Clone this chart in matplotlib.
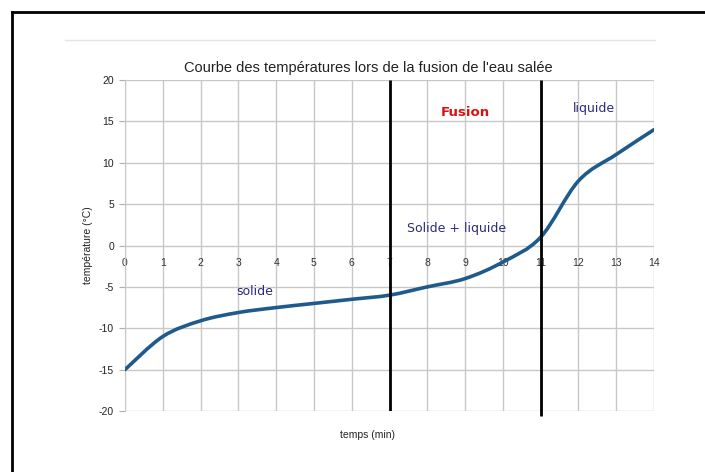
import numpy as np
import matplotlib
matplotlib.use('Agg')
import matplotlib.pyplot as plt
from matplotlib.path import Path
from matplotlib.patches import PathPatch
from matplotlib.lines import Line2D

# data
temps = [0, 1, 2, 3, 4, 5, 6, 7, 8, 9, 10, 11, 12, 13, 14]
temperature = [-15, -11, -9.1, -8.1, -7.5, -7.0, -6.5, -6.0, -5.0, -4.0, -2.0, 1.0, 7.8, 11.0, 14.0]
phase_limits = [7, 11]
x_ticks = list(range(0, 15))
y_ticks = [-20, -15, -10, -5, 0, 5, 10, 15, 20]

plt.rcParams['font.family'] = ['Liberation Sans', 'DejaVu Sans']
plt.rcParams['axes.unicode_minus'] = False

fig = plt.figure(figsize=(7.05, 4.72), dpi=100)
ax = fig.add_axes([125 / 705, 1 - 411 / 472, 529 / 705, 331 / 472])

# smooth line: cubic bezier segments through the points (catmull-rom style)
x = np.array(temps, dtype=float)
y = np.array(temperature, dtype=float)
verts = [(x[0], y[0])]
codes = [Path.MOVETO]
for i in range(len(x) - 1):
    i0 = max(i - 1, 0)
    i3 = min(i + 2, len(x) - 1)
    c1 = (x[i] + (x[i + 1] - x[i0]) / 6, y[i] + (y[i + 1] - y[i0]) / 6)
    c2 = (x[i + 1] - (x[i3] - x[i]) / 6, y[i + 1] - (y[i3] - y[i]) / 6)
    verts += [c1, c2, (x[i + 1], y[i + 1])]
    codes += [Path.CURVE4] * 3
ax.add_patch(PathPatch(Path(verts, codes), facecolor='none', edgecolor='#1f5a8c',
                       linewidth=2.6, capstyle='round', zorder=4))

# phase limits
ax.vlines(phase_limits[0], -20, 20, color='black', linewidth=2, zorder=5)
ax.vlines(phase_limits[1], -20.6, 20, color='black', linewidth=2, zorder=5, clip_on=False)

ax.set_xlim(0, 14)
ax.set_ylim(-20, 20)
ax.set_yticks(y_ticks)
ax.set_xticks(x_ticks)
ax.grid(True, color='#c8c8c8', linewidth=1)
ax.set_axisbelow(True)

for s in ['top', 'right']:
    ax.spines[s].set_visible(False)
ax.spines['left'].set_color('#c8c8c8')
ax.spines['bottom'].set_position(('data', 0))
ax.spines['bottom'].set_visible(False)
ax.tick_params(axis='y', length=4, color='#b0b0b0', labelsize=7.5, labelcolor='#222222', pad=4)
ax.tick_params(axis='x', length=0, labelsize=7.5, labelcolor='#333333', pad=9)

# title and x label are centred on the page, not on the plot area
fig.text(368 / 705, 1 - 68 / 472, "Courbe des températures lors de la fusion de l'eau salée",
         fontsize=10.5, color='#222222', ha='center', va='center')
fig.text(368 / 705, 1 - 435 / 472, 'temps (min)', fontsize=7.5, color='#222222',
         ha='center', va='center')
fig.text(88 / 705, 1 - 245 / 472, 'température (°C)', fontsize=7.5, color='#222222',
         ha='center', va='center', rotation=90)

# phase annotations
ax.text(3.43, -5.5, 'solide', color='#2b2b7a', fontsize=9, family='DejaVu Sans',
        ha='center', va='center')
ax.text(8.77, 2.0, 'Solide + liquide', color='#2b2b7a', fontsize=9, family='DejaVu Sans',
        ha='center', va='center')
ax.text(9.0, 16.1, 'Fusion', color='#dd1111', fontsize=9.5, fontweight='bold',
        family='DejaVu Sans', ha='center', va='center')
ax.text(12.4, 16.6, 'liquide', color='#2b2b7a', fontsize=9, family='DejaVu Sans',
        ha='center', va='center')

# faint line above the chart, and the outer frame
fig.add_artist(Line2D([65 / 705, 655 / 705], [1 - 40 / 472] * 2, color='#e4e4e4',
                      linewidth=1, transform=fig.transFigure))
fig.add_artist(Line2D([11.5 / 705, 11.5 / 705], [0, 1 - 11.5 / 472], color='black',
                      linewidth=2, transform=fig.transFigure))
fig.add_artist(Line2D([11.5 / 705, 1], [1 - 11.5 / 472] * 2, color='black',
                      linewidth=2, transform=fig.transFigure))

fig.savefig('out.png', dpi=100)
